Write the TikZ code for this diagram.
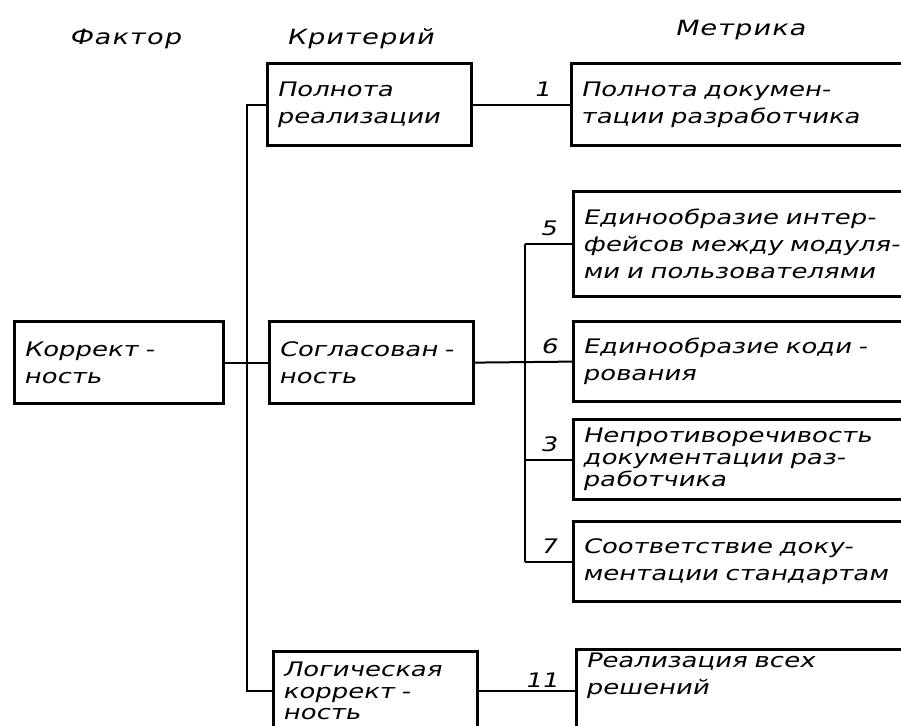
\documentclass[tikz,border=0pt]{standalone}
\usepackage{fontspec}
\setmainfont{DejaVu Sans}[FakeSlant=0.22,FakeStretch=1.3]
\usetikzlibrary{positioning,calc}

\begin{document}
\begin{tikzpicture}[x=1pt,y=-1pt, line width=2pt,
   txt/.style={font=\fontsize{20}{27}\selectfont},
   box/.style={txt, draw, line width=3.2pt, anchor=north west, align=left,
     inner xsep=9pt, inner ysep=3pt, minimum height=82pt},
   crit/.style={box, text width=186pt},
   metr/.style={box, text width=342pt},
   hdr/.style={font=\fontsize{21}{27}\selectfont\addfontfeature{LetterSpace=5}, anchor=base},
   num/.style={txt, above=6pt, inner sep=1pt}]
  \useasboundingbox (0,0) rectangle (901,725);
  \clip (0,0) rectangle (901,725);
  % headers
  \node[hdr] (hfak) at (125,45) {Фактор};
  \node[hdr] (hkri) at (360,45) {Критерий};
  \node[hdr] (hmet) at (740,36) {Метрика};
  % factor and criteria
  \node[box, text width=191pt] (kor) at (13,320) {Коррект -\\ность};
  \node[crit] (polr) at (266,62) {Полнота\\реализации};
  \node[crit] (sogl) at (268,320) {Согласован -\\ность};
  \node[crit, minimum height=0pt, text height=22pt, text depth=70pt, font=\fontsize{20}{21.5}\selectfont] (logk) at (272,650) {Логическая\\коррект -\\ность};
  % metrics
  \node[metr] (m1) at (570,62) {Полнота докумен-\\тации разработчика};
  \node[metr, minimum height=105pt] (m5) at (572,190) {Единообразие интер-\\фейсов между модуля-\\ми и пользователями};
  \node[metr, minimum height=80pt] (m6) at (572,320) {Единообразие коди -\\рования};
  \node[metr, minimum height=80pt, font=\fontsize{20}{22}\selectfont] (m3) at (572,418) {Непротиворечивость\\документации раз-\\работчика};
  \node[metr, minimum height=80pt] (m7) at (572,520) {Соответствие доку-\\ментации стандартам};
  \node[metr, minimum height=0pt, text depth=70pt] (m11) at (575,648) {Реализация всех\\решений};
  % connectors
  \coordinate (kb) at ($(kor.east)!.5!(sogl.west)$);
  \coordinate (lk) at ($(logk.north west)+(0,41)$);
  \coordinate (sb) at (525,0);
  \draw (kor.east) -- (sogl.west);
  \draw (polr.west) -| (kb) |- (lk);
  \draw (polr.east) -- node[num, pos=.71] {1} (m1.west);
  \draw (sogl.east) -- node[num, pos=.76] {6} (m6.west);
  \draw (sb |- m5.west) -- (sb |- m7.west);
  \draw (sb |- m5.west) -- node[num] {5} (m5.west);
  \draw (sb |- m3.west) -- node[num] {3} (m3.west);
  \draw (sb |- m7.west) -- node[num] {7} (m7.west);
  \draw (lk -| logk.east) -- node[num, pos=.65, above=2pt] {11} (lk -| m11.west);
\end{tikzpicture}
\end{document}
